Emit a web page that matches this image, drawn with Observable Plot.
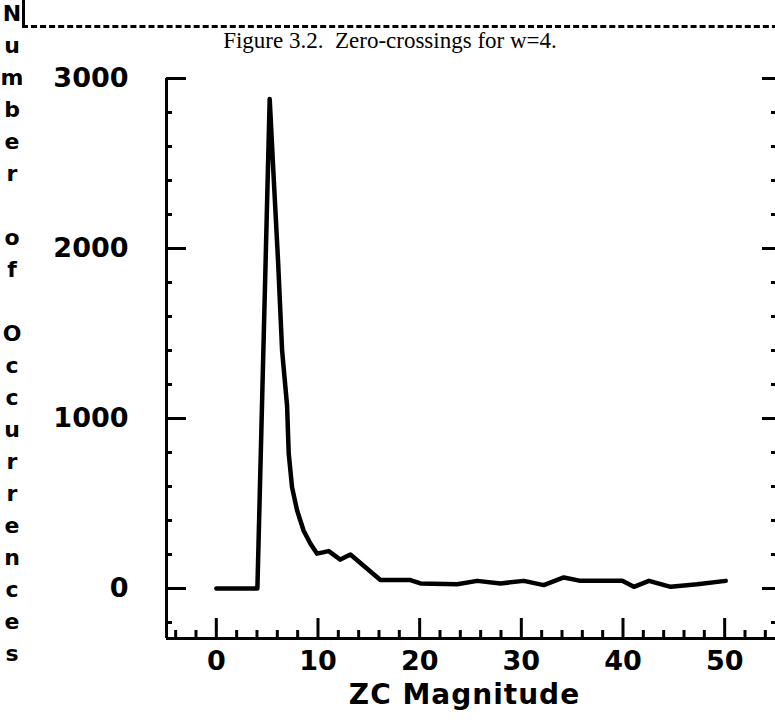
<!DOCTYPE html>
<html><head><meta charset="utf-8">
<script src="https://cdn.jsdelivr.net/npm/d3@7"></script>
<script src="https://cdn.jsdelivr.net/npm/@observablehq/plot@0.6"></script>
<style>
body{margin:0;background:#fff;}
#wrap{position:relative;width:775px;height:722px;overflow:hidden;background:#fff;}
#wrap svg{position:absolute;left:0;top:0;}
#scan{position:absolute;left:22px;top:-6px;width:780px;height:31px;border-left:3px solid #000;border-bottom:3px dashed #000;}
#cap{position:absolute;left:0;width:780px;top:28px;text-align:center;font-family:"Liberation Serif",serif;font-size:23px;color:#000;}
#ytitle{position:absolute;left:0;width:24px;top:-2px;text-align:center;font-family:"DejaVu Sans",sans-serif;font-weight:bold;font-size:22px;line-height:32px;color:#000;}
#xtitle{position:absolute;left:160px;width:609px;top:678px;text-align:center;font-family:"DejaVu Sans",sans-serif;font-weight:bold;font-size:28px;letter-spacing:1px;color:#000;}
</style></head>
<body><div id="wrap"><div id="scan"></div><div id="cap"></div><div id="ytitle"></div><div id="xtitle"></div></div>
<script>
const magnitude   = [0, 4.04, 5.25, 5.64, 6.07, 6.47, 6.96, 7.12, 7.45, 7.94, 8.59, 9.25, 9.91, 11.05, 12.2, 13.19, 16.14, 19.09, 20.08, 23.69, 25.66, 27.95, 30.25, 32.2, 34.18, 35.83, 37.8, 39.93, 41.07, 42.55, 44.69, 47.31, 50.1];
const occurrences = [0, 0, 2880, 2420, 1930, 1400, 1075, 795, 595, 460, 340, 265, 205, 220, 170, 200, 50, 50, 30, 25, 45, 30, 45, 20, 65, 45, 45, 45, 10, 45, 10, 25, 45];
const xTicks = [0, 10, 20, 30, 40, 50];
const yTicks = [0, 1000, 2000, 3000];
const xDomain = [-4.9, 55.0];
const yDomain = [-294, 3000];
const xMinor = d3.range(-4, 56, 2).filter(d => d % 10 !== 0);
const yMinor = d3.range(-200, 3001, 200).filter(d => d % 1000 !== 0);
const title = "Figure 3.2.\u00a0\u00a0Zero-crossings for w=4.";
const xLabel = "ZC Magnitude";
const yLabel = "Number of Occurrences";

document.getElementById("cap").textContent = title;
document.getElementById("xtitle").textContent = xLabel;
document.getElementById("ytitle").innerHTML = yLabel.split("").map(c => c === " " ? "&nbsp;" : c).join("<br>");

const data = magnitude.map((m, i) => ({m, n: occurrences[i]}));
const font = {fontFamily: "DejaVu Sans", fontWeight: "bold", fontSize: 27, tickFormat: d => String(d)};
const none = () => "";
const ax = {strokeWidth: 3, label: null, tickFormat: none};

const chart = Plot.plot({
  width: 775, height: 722,
  marginLeft: 166, marginRight: 0, marginTop: 78, marginBottom: 84,
  x: {domain: xDomain},
  y: {domain: yDomain},
  style: {background: "transparent", color: "black", overflow: "visible"},
  marks: [
    Plot.ruleX([xDomain[0]], {strokeWidth: 3}),
    Plot.ruleY([yDomain[0]], {strokeWidth: 3}),
    Plot.axisY(yTicks, {anchor: "left", tickSize: -20, ...ax}),
    Plot.axisY(yMinor, {anchor: "left", tickSize: -6, ...ax}),
    Plot.axisY(yTicks, {anchor: "right", tickSize: -14, ...ax}),
    Plot.axisY(yMinor, {anchor: "right", tickSize: -5, ...ax}),
    Plot.axisX(xTicks, {anchor: "bottom", tickSize: -20, ...ax}),
    Plot.axisX(xMinor, {anchor: "bottom", tickSize: -8, ...ax}),
    Plot.axisY(yTicks, {anchor: "left", tickSize: 0, tickPadding: 38, label: null, ...font}),
    Plot.axisX(xTicks, {anchor: "bottom", tickSize: 0, tickPadding: 12, label: null, ...font}),
    Plot.line(data, {x: "m", y: "n", stroke: "black", strokeWidth: 4.5, strokeLinejoin: "round", strokeLinecap: "round"})
  ]
});
document.getElementById("wrap").prepend(chart);
</script>
</body></html>
